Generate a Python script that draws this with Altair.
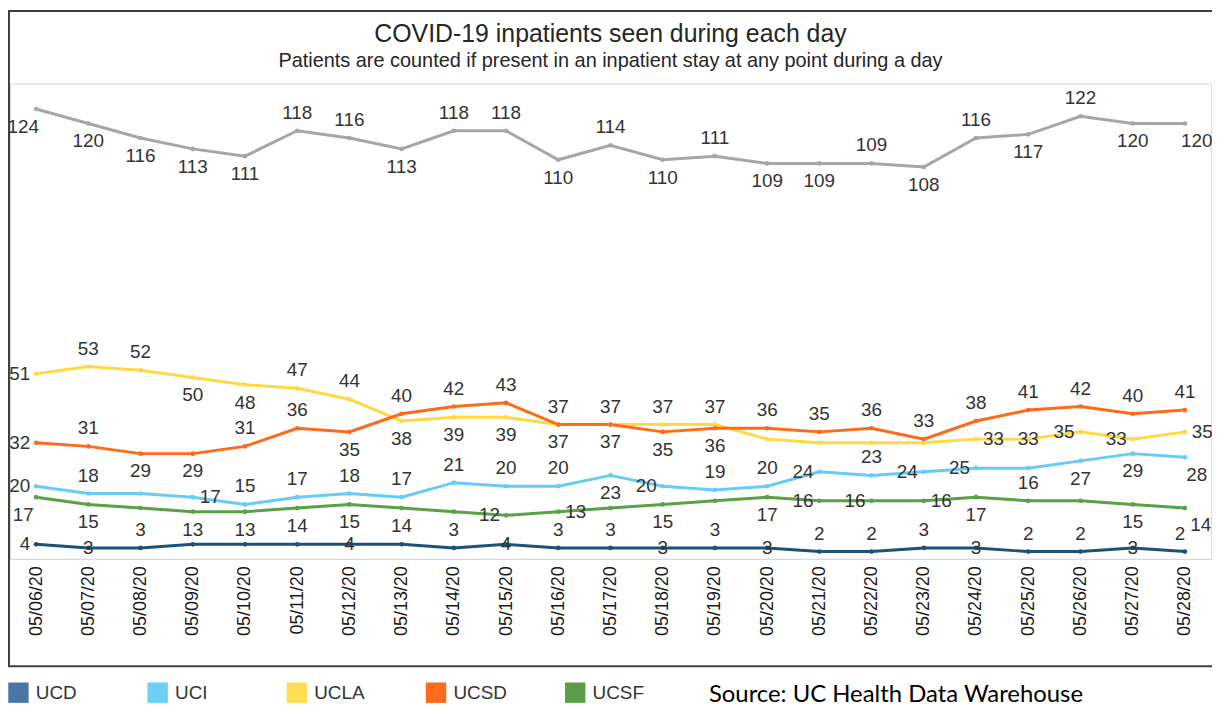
import altair as alt
import pandas as pd

dates = ["05/06/20", "05/07/20", "05/08/20", "05/09/20", "05/10/20", "05/11/20",
         "05/12/20", "05/13/20", "05/14/20", "05/15/20", "05/16/20", "05/17/20",
         "05/18/20", "05/19/20", "05/20/20", "05/21/20", "05/22/20", "05/23/20",
         "05/24/20", "05/25/20", "05/26/20", "05/27/20", "05/28/20"]

total = [124, 120, 116, 113, 111, 118, 116, 113, 118, 118, 110, 114, 110, 111, 109, 109, 109, 108, 116, 117, 122, 120, 120]
ucd = [4, 3, 3, 4, 4, 4, 4, 4, 3, 4, 3, 3, 3, 3, 3, 2, 2, 3, 3, 2, 2, 3, 2]
uci = [20, 18, 18, 17, 15, 17, 18, 17, 21, 20, 20, 23, 20, 19, 20, 24, 23, 24, 25, 25, 27, 29, 28]
ucla = [51, 53, 52, 50, 48, 47, 44, 38, 39, 39, 37, 37, 37, 37, 33, 32, 32, 32, 33, 33, 35, 33, 35]
ucsd = [32, 31, 29, 29, 31, 36, 35, 40, 42, 43, 37, 37, 35, 36, 36, 35, 36, 33, 38, 41, 42, 40, 41]
ucsf = [17, 15, 14, 13, 13, 14, 15, 14, 13, 12, 13, 14, 15, 16, 17, 16, 16, 16, 17, 16, 16, 15, 14]

# label placement as seen in the picture (a=above, b=below, l=left, r=right, c=centre, n=none)
total_pos = ["bl", "b", "b", "b", "b", "a", "a", "b", "a", "a", "b", "a", "b", "a", "b", "b", "a", "b", "a", "b", "a", "b", "br"]
ucd_pos = ["l", "c", "a", "n", "n", "n", "c", "n", "a", "c", "a", "a", "c", "a", "c", "a", "a", "a", "c", "a", "a", "c", "al"]
uci_pos = ["l", "a", "n", "r", "a", "a", "a", "a", "a", "a", "a", "b", "l", "a", "a", "l", "a", "l", "l", "n", "b", "b", "br"]
ucla_pos = ["l", "a", "a", "b", "b", "a", "a", "b", "b", "b", "b", "b", "a", "a", "n", "n", "n", "n", "r", "c", "l", "l", "r"]
ucsd_pos = ["l", "a", "b", "b", "a", "a", "b", "a", "a", "a", "a", "a", "b", "b", "a", "a", "a", "a", "a", "a", "a", "a", "a"]
ucsf_pos = ["bl", "b", "n", "b", "b", "b", "b", "b", "n", "l", "r", "n", "b", "n", "b", "l", "l", "r", "b", "a", "n", "b", "brr"]

series_names = ["UCD", "UCI", "UCLA", "UCSD", "UCSF"]
line_colors = ["#1d5176", "#66ccf5", "#ffd945", "#ff6a1a", "#5aa047"]
legend_colors = ["#4a76a6", "#6dcff6", "#ffdf4f", "#ff6b1a", "#5a9e48"]
source_text = "Source: UC Health Data Warehouse"
title_text = "COVID-19 inpatients seen during each day"
subtitle_text = "Patients are counted if present in an inpatient stay at any point during a day"

rows = []
for name, vals, pos in zip(["Total"] + series_names,
                           [total, ucd, uci, ucla, ucsd, ucsf],
                           [total_pos, ucd_pos, uci_pos, ucla_pos, ucsd_pos, ucsf_pos]):
    for i, (v, p) in enumerate(zip(vals, pos)):
        rows.append({"idx": i, "date": dates[i], "series": name, "value": v, "pos": p})
df = pd.DataFrame(rows)

FONT = "Liberation Sans"
W, H = 1208, 478

label_js = "[" + ",".join("'" + d + "'" for d in dates) + "]"
x_enc = alt.X("idx:Q", scale=alt.Scale(domain=[-0.5, 22.5], nice=False, zero=False),
              axis=alt.Axis(values=list(range(len(dates))), labelExpr=label_js + "[datum.value]",
                            labelAngle=270, labelAlign="right", labelBaseline="middle",
                            labelPadding=7, labelFont=FONT, labelFontSize=18, labelColor="#1a1a1a",
                            ticks=False, grid=False, domainColor="#d9d9d9", domainWidth=1,
                            title=None))
y_enc = alt.Y("value:Q", scale=alt.Scale(domain=[0, 131], nice=False), axis=None)

base = alt.Chart(df)

tot = base.transform_filter(alt.datum.series == "Total")
gray_line = tot.mark_line(color="#a6a6a6", strokeWidth=3).encode(x=x_enc, y=y_enc)
gray_pts = tot.mark_point(color="#a6a6a6", filled=True, size=22, opacity=1).encode(x=x_enc, y=y_enc)

ucs = base.transform_filter(alt.datum.series != "Total")
col_scale = alt.Scale(domain=series_names, range=line_colors)
lines = ucs.mark_line(strokeWidth=3).encode(
    x=x_enc, y=y_enc,
    color=alt.Color("series:N", scale=col_scale, legend=None),
    order=alt.Order("idx:Q"))
pts = ucs.mark_point(filled=True, size=22, opacity=1).encode(
    x=x_enc, y=y_enc,
    color=alt.Color("series:N", scale=col_scale, legend=None))

legend_layer = ucs.mark_point(shape="square", filled=True, opacity=0).encode(
    x=x_enc, y=y_enc,
    color=alt.Color("series:N", scale=alt.Scale(domain=series_names, range=legend_colors),
                    legend=alt.Legend(orient="none", legendX=-2, legendY=602, direction="horizontal",
                                      title=None, symbolType="square", symbolSize=420,
                                      symbolOpacity=1, symbolStrokeWidth=0,
                                      labelFont=FONT, labelFontSize=19, labelColor="#333333",
                                      labelOffset=7, gridAlign="all", columnPadding=58,
                                      padding=0, columns=5)))

offsets = {
    "a": dict(dx=0, dy=-18, align="center"),
    "al": dict(dx=-5, dy=-18, align="center"),
    "b": dict(dx=0, dy=18, align="center"),
    "l": dict(dx=-6, dy=0, align="right"),
    "r": dict(dx=7, dy=0, align="left"),
    "c": dict(dx=0, dy=0, align="center"),
    "bl": dict(dx=-13, dy=18, align="center"),
    "br": dict(dx=12, dy=18, align="center"),
    "brr": dict(dx=16, dy=17, align="center"),
}
label_layers = []
for p, o in offsets.items():
    label_layers.append(
        base.transform_filter(alt.datum.pos == p).mark_text(
            font=FONT, fontSize=19, color="#333333", baseline="middle", **o
        ).encode(x=x_enc, y=y_enc, text=alt.Text("value:Q"))
    )

one = alt.Chart(alt.Data(values=[{}]))
frame = one.mark_rect(fillOpacity=0, stroke="#404040", strokeWidth=2).encode(
    x=alt.value(-1), x2=alt.value(1215), y=alt.value(-73), y2=alt.value(586))
title = one.mark_text(font=FONT, fontSize=25, color="#262626", align="center", baseline="middle").encode(
    x=alt.value(W / 2), y=alt.value(-50), text=alt.value(title_text))
subtitle = one.mark_text(font=FONT, fontSize=20, color="#262626", align="center", baseline="middle").encode(
    x=alt.value(W / 2), y=alt.value(-23), text=alt.value(subtitle_text))
source = one.mark_text(font="Lato", fontSize=24, color="#000000", align="left", baseline="middle").encode(
    x=alt.value(703), y=alt.value(615), text=alt.value(source_text))

chart = alt.layer(
    frame, gray_line, gray_pts, lines, pts, legend_layer, *label_layers, title, subtitle, source
).resolve_scale(color="independent").properties(
    width=W, height=H,
    autosize=alt.AutoSizeParams(type="none"),
    padding={"left": 2, "top": 74, "right": 1, "bottom": 150},
    background="white",
).configure_view(stroke="#d9d9d9", strokeWidth=1)

chart.save("out.html", embed_options={"renderer": "svg", "actions": False})
